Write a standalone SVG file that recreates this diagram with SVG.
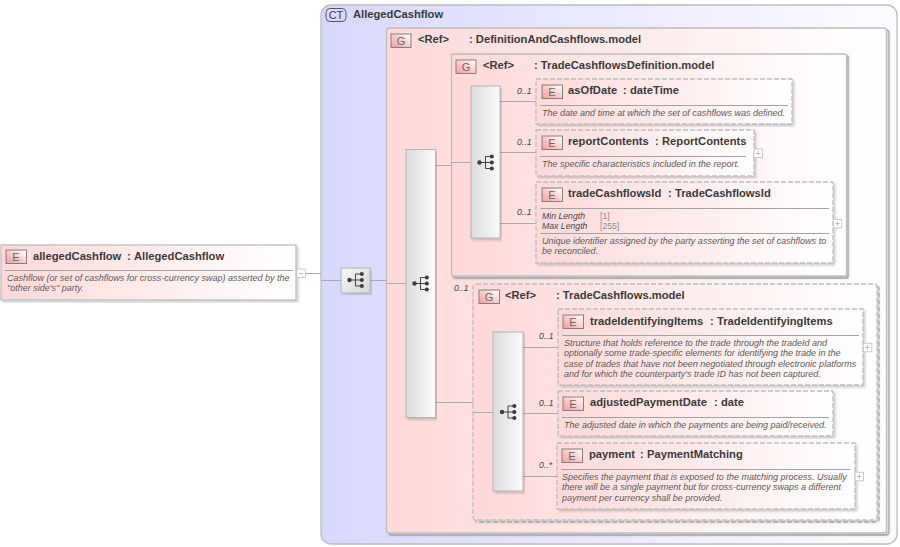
<svg xmlns="http://www.w3.org/2000/svg" xmlns:xlink="http://www.w3.org/1999/xlink" width="900" height="547" viewBox="0 0 900 547">
<style>
text{font-family:"Liberation Sans",Arial,sans-serif;fill:#3a3a3a}
.t{font-size:11.2px;font-weight:bold}
.d{font-size:9.03px;font-style:italic;fill:#5a5a5a}
.o{font-size:8.7px;font-style:italic;fill:#444}
.v{font-size:8.6px;fill:#8c8c8c}
.b{font-size:11px;fill:#666;text-anchor:middle}
.box{stroke:#bdbdbd;stroke-width:1.3;fill:url(#pink);filter:url(#shadow)}
.dash{stroke-dasharray:5 2}
.back{fill:#fff;stroke:#bdbdbd;stroke-width:1.3}
.sep{stroke:#9a9a9a;stroke-width:.9}
.c{stroke:#aaa;stroke-width:1;fill:none}
.seq{fill:url(#grey);stroke:#b4b4b4;stroke-width:1;filter:url(#shadow)}
.btn{fill:#fff;stroke:#c4c4c4;stroke-width:.9}
.pm{stroke:#b0b0b0;stroke-width:.8;fill:none}
.badge{fill:url(#bad);stroke:#808080;stroke-width:1}
</style>
<defs>
<filter id="shadow" x="-5%" y="-5%" width="110%" height="110%"><feDropShadow dx="2" dy="2" stdDeviation="1" flood-color="#000" flood-opacity=".18"/></filter>
<linearGradient id="pink"><stop offset="0" stop-color="#ffd9d9"/><stop offset="1" stop-color="#fff"/></linearGradient>
<linearGradient id="blue"><stop offset="0" stop-color="#d8d8ff"/><stop offset="1" stop-color="#fcfcff"/></linearGradient>
<linearGradient id="grey"><stop offset="0" stop-color="#dcdcdc"/><stop offset="1" stop-color="#fbfbfb"/></linearGradient>
<linearGradient id="grey2" x1="0" y1="0" x2="1" y2="1"><stop offset="0" stop-color="#f8f8f8"/><stop offset="1" stop-color="#d4d4d4"/></linearGradient>
<linearGradient id="bad" x1="1" y1="0" x2="0" y2="1"><stop offset="0" stop-color="#fff"/><stop offset="1" stop-color="#f99a9a"/></linearGradient>
<g id="ico" fill="#3c3c3c" stroke="none">
<circle cx="-6" cy="0" r="2.2"/><circle cx="6.300" cy="-6" r="2.100"/><circle cx="6.300" cy="0" r="2.100"/><circle cx="6.300" cy="6" r="2.100"/>
<path d="M-6 0H6M0 -6V6M0 -6H6M0 6H6" stroke="#444" stroke-width="1" fill="none"/>
</g>
</defs>

<g id="ct-AllegedCashflow">
<rect x="321" y="5" width="576" height="539" rx="10" fill="url(#blue)" stroke="#bdbdbd" stroke-width="1.3"/>
<rect x="326" y="8.500" width="20" height="13" rx="4" fill="#d8d8ff" stroke="#555"/>
<text x="336" y="19" class="b" style="fill:#444">CT</text>
<text x="353" y="17.500" class="t">AllegedCashflow</text>
</g>

<g id="g-DefinitionAndCashflows">
<rect x="389" y="30" width="500" height="505" rx="3" class="back"/>
<rect x="386.500" y="28" width="500" height="505" rx="3" class="box"/>
<rect x="391" y="34" width="20" height="13.500" class="badge"/><text x="401" y="45" class="b">G</text>
<text x="418" y="43" class="t">&lt;Ref&gt;</text><text x="469" y="43" class="t">: DefinitionAndCashflows.model</text>
</g>

<g id="g-TradeCashflowsDefinition">
<rect x="453.500" y="56" width="394.500" height="222" rx="1" class="back"/>
<rect x="451.500" y="54" width="395" height="222" rx="1" class="box"/>
<rect x="456" y="60" width="20" height="13.500" class="badge"/><text x="466" y="71" class="b">G</text>
<text x="483" y="69" class="t">&lt;Ref&gt;</text><text x="534" y="69" class="t">: TradeCashflowsDefinition.model</text>
</g>

<g id="g-TradeCashflows">
<rect x="475" y="286" width="404" height="236" rx="3" class="back dash"/>
<rect x="473" y="284" width="404" height="236" rx="3" class="box dash"/>
<rect x="479" y="290" width="20.500" height="13.500" class="badge"/><text x="489" y="301" class="b">G</text>
<text x="505" y="299" class="t">&lt;Ref&gt;</text><text x="556" y="299" class="t">: TradeCashflows.model</text>
<text x="454" y="291" class="o">0..1</text>
</g>

<g id="connectors">
<path class="c" d="M305 273.500H321M321 280.500H341M370 280.500H386.500M386.500 283.500H406M435.500 165.500H451.500M451.500 162.500H471M435.500 402.500H473M473 412.500H493M500 101.500H536M500 152.500H536M500 223.500H536M523 347.500H558M523 413.500H558M523 476.500H557"/>
</g>

<g id="seq-1"><rect x="341" y="268" width="29" height="25" style="fill:url(#grey2)" class="seq"/><use xlink:href="#ico" href="#ico" x="355.500" y="280"/></g>
<g id="seq-2"><rect x="406" y="149.500" width="29.500" height="268" class="seq"/><use xlink:href="#ico" href="#ico" x="420.500" y="283.500"/></g>
<g id="seq-3"><rect x="471" y="86" width="29" height="152" class="seq"/><use xlink:href="#ico" href="#ico" x="485.500" y="162.500"/></g>
<g id="seq-4"><rect x="493" y="332" width="30" height="159" class="seq"/><use xlink:href="#ico" href="#ico" x="508" y="412"/></g>

<g id="el-allegedCashflow">
<rect x="1" y="245" width="295" height="55" class="box"/>
<rect x="6" y="250" width="20.500" height="13.500" class="badge"/><text x="16" y="261" class="b">E</text>
<text x="33" y="260" class="t">allegedCashflow</text><text x="127" y="260" class="t">:</text><text x="134" y="260" class="t">AllegedCashflow</text>
<line x1="5" y1="270.500" x2="293" y2="270.500" class="sep"/>
<text x="7" y="281" class="d">Cashflow (or set of cashflows for cross-currency swap) asserted by the</text>
<text x="7" y="291" class="d">"other side's" party.</text>
<rect x="296.800" y="269" width="8.500" height="8.500" class="btn"/><path class="pm" d="M299 273.500H303"/>
</g>

<g id="el-asOfDate">
<rect x="536" y="79" width="256" height="45" class="box dash"/>
<rect x="542" y="85" width="20.500" height="13.500" class="badge"/><text x="552" y="96" class="b">E</text>
<text x="568" y="94" class="t">asOfDate</text><text x="623" y="94" class="t">:</text><text x="630" y="94" class="t">dateTime</text>
<line x1="540" y1="105.500" x2="788" y2="105.500" class="sep"/>
<text x="542" y="116" class="d">The date and time at which the set of cashflows was defined.</text>
<text x="517" y="94" class="o">0..1</text>
</g>

<g id="el-reportContents">
<rect x="536" y="130" width="218" height="46" class="box dash"/>
<rect x="542" y="136" width="20.500" height="13.500" class="badge"/><text x="552" y="147" class="b">E</text>
<text x="568" y="145" class="t">reportContents</text><text x="655" y="145" class="t">:</text><text x="662" y="145" class="t">ReportContents</text>
<line x1="540" y1="156.500" x2="746" y2="156.500" class="sep"/>
<text x="542" y="167" class="d">The specific characteristics included in the report.</text>
<text x="517" y="145" class="o">0..1</text>
<rect x="754" y="149" width="8.500" height="8.500" class="btn"/><path class="pm" d="M756 153.500H760.500M758.300 151V155.500"/>
</g>

<g id="el-tradeCashflowsId">
<rect x="536" y="182" width="297" height="81" class="box dash"/>
<rect x="542" y="188" width="20.500" height="13.500" class="badge"/><text x="552" y="199" class="b">E</text>
<text x="568" y="197" class="t">tradeCashflowsId</text><text x="668" y="197" class="t">:</text><text x="675" y="197" class="t">TradeCashflowsId</text>
<line x1="540" y1="208.500" x2="829" y2="208.500" class="sep"/>
<text x="542" y="219" class="o">Min Length</text><text x="600" y="219" class="v">[1]</text>
<text x="542" y="229" class="o">Max Length</text><text x="600" y="229" class="v">[255]</text>
<line x1="540" y1="233.500" x2="829" y2="233.500" class="sep"/>
<text x="542" y="244" class="d">Unique identifier assigned by the party asserting the set of cashflows to</text>
<text x="542" y="254" class="d">be reconciled.</text>
<text x="517" y="215" class="o">0..1</text>
<rect x="833.300" y="219.300" width="8.500" height="8.500" class="btn"/><path class="pm" d="M835.300 223.500H839.800M837.500 221.300V225.800"/>
</g>

<g id="el-tradeIdentifyingItems">
<rect x="558" y="309" width="305" height="76" class="box dash"/>
<rect x="563" y="315" width="20.500" height="13.500" class="badge"/><text x="573" y="326" class="b">E</text>
<text x="590" y="325" class="t">tradeIdentifyingItems</text><text x="710" y="325" class="t">:</text><text x="717" y="325" class="t">TradeIdentifyingItems</text>
<line x1="562" y1="335.500" x2="859" y2="335.500" class="sep"/>
<text x="564" y="346" class="d">Structure that holds reference to the trade through the tradeId and</text>
<text x="564" y="356" class="d">optionally some trade-specific elements for identifying the trade in the</text>
<text x="564" y="367" class="d">case of trades that have not been negotiated through electronic platforms</text>
<text x="564" y="377" class="d">and for which the counterparty's trade ID has not been captured.</text>
<text x="539" y="339" class="o">0..1</text>
<rect x="863.300" y="343.300" width="8.500" height="8.500" class="btn"/><path class="pm" d="M865.300 347.500H869.800M867.500 345.300V349.800"/>
</g>

<g id="el-adjustedPaymentDate">
<rect x="558" y="391" width="275" height="45" class="box dash"/>
<rect x="563" y="397" width="20.500" height="13.500" class="badge"/><text x="573" y="408" class="b">E</text>
<text x="590" y="406" class="t">adjustedPaymentDate</text><text x="714" y="406" class="t">:</text><text x="721" y="406" class="t">date</text>
<line x1="562" y1="417.500" x2="829" y2="417.500" class="sep"/>
<text x="564" y="428" class="d">The adjusted date in which the payments are being paid/received.</text>
<text x="539" y="406" class="o">0..1</text>
</g>

<g id="el-payment">
<rect x="557" y="443" width="298" height="66" class="box dash"/>
<rect x="562" y="449" width="20.500" height="13.500" class="badge"/><text x="572" y="460" class="b">E</text>
<text x="589" y="458" class="t">payment</text><text x="640" y="458" class="t">:</text><text x="647" y="458" class="t">PaymentMatching</text>
<line x1="561" y1="469.500" x2="850" y2="469.500" class="sep"/>
<text x="562" y="480" class="d">Specifies the payment that is exposed to the matching process. Usually</text>
<text x="562" y="490" class="d">there will be a single payment but for cross-currency swaps a different</text>
<text x="562" y="501" class="d">payment per currency shall be provided.</text>
<text x="539" y="468" class="o">0..*</text>
<rect x="855" y="472.300" width="8.500" height="8.500" class="btn"/><path class="pm" d="M857 476.500H861.500M859.300 474.300V478.800"/>
</g>
</svg>
